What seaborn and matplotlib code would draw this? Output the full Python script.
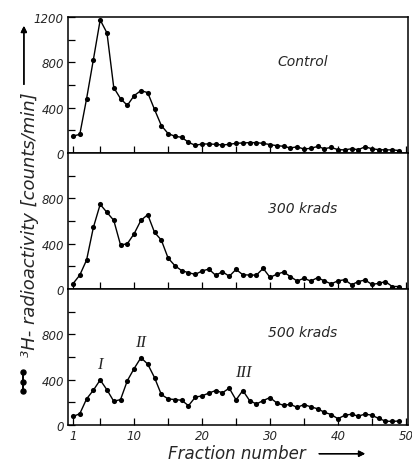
import matplotlib

matplotlib.use("Agg")

import matplotlib.pyplot as plt
import pandas as pd
import seaborn as sns
from matplotlib.lines import Line2D
from matplotlib.ticker import FixedLocator


FRACTIONS = list(range(1, 50))

CONTROL = [
    150, 165, 480, 825, 1175, 1060, 578, 480, 421, 507,
    551, 533, 385, 243, 172, 148, 139, 95, 68, 80,
    80, 77, 71, 77, 86, 89, 92, 92, 85, 75,
    65, 60, 45, 55, 35, 42, 58, 38, 50, 30,
    28, 38, 30, 55, 38, 30, 28, 28, 22,
]
KRADS_300 = [
    47, 123, 256, 544, 747, 676, 606, 388, 400, 488,
    606, 656, 500, 432, 273, 206, 162, 144, 129, 159,
    176, 121, 153, 112, 173, 126, 123, 123, 182, 103,
    130, 150, 110, 70, 95, 70, 100, 72, 45, 72,
    82, 38, 65, 80, 40, 50, 65, 22, 22,
]
KRADS_500 = [
    75, 99, 230, 307, 397, 310, 209, 224, 391, 498,
    594, 537, 418, 269, 230, 224, 218, 170, 245, 257,
    281, 304, 284, 325, 221, 304, 215, 185, 215, 242,
    194, 173, 182, 155, 180, 160, 143, 112, 92, 55,
    85, 95, 78, 96, 86, 57, 34, 31, 35,
]

PANEL_LABELS = ["Control", "300 krads", "500 krads"]
PANEL_LABEL_Y = [810, 715, 820]

PEAK_LABELS = ["I", "II", "III"]
PEAK_X = [5, 11, 26]
PEAK_Y = [540, 730, 470]

X_TICKS = [1, 10, 20, 30, 40, 50]
X_MINOR = [5, 15, 25, 35, 45]
Y_MINOR = [200, 600, 1000]


def build_frame():
    frames = []
    for label, values in zip(PANEL_LABELS, [CONTROL, KRADS_300, KRADS_500]):
        frames.append(pd.DataFrame({"Fraction": FRACTIONS, "Counts": values, "Sample": label}))
    return pd.concat(frames, ignore_index=True)


def main():
    data = build_frame()

    sns.set_style("ticks")
    plt.rcParams["font.family"] = ["DejaVu Sans"]
    plt.rcParams["font.style"] = "italic"

    fig, axes = plt.subplots(3, 1, figsize=(4.12, 4.64), dpi=100, sharex=True)
    fig.subplots_adjust(left=0.165, right=0.99, top=0.961, bottom=0.082, hspace=0)

    for index, (ax, label) in enumerate(zip(axes, PANEL_LABELS)):
        sns.lineplot(
            data=data[data["Sample"] == label],
            x="Fraction",
            y="Counts",
            ax=ax,
            color="black",
            linewidth=1.0,
            marker="o",
            markersize=3.7,
            markeredgewidth=0,
        )
        ax.set_xlim(0.26, 50.3)
        ax.set_ylim(0, 1200)
        ax.set_xlabel("")
        ax.set_ylabel("")

        y_ticks = [0, 400, 800, 1200] if index == 0 else [0, 400, 800]
        ax.yaxis.set_major_locator(FixedLocator(y_ticks))
        ax.yaxis.set_minor_locator(FixedLocator(Y_MINOR))
        ax.xaxis.set_major_locator(FixedLocator(X_TICKS))
        ax.xaxis.set_minor_locator(FixedLocator(X_MINOR))
        ax.tick_params(axis="both", which="both", direction="in", length=5, width=0.9,
                       color="black", labelsize=8.5, pad=3)
        for spine in ax.spines.values():
            spine.set_visible(True)
            spine.set_color("black")
            spine.set_linewidth(1.1)

        ax.text(34.8, PANEL_LABEL_Y[index], label, ha="center", va="center", fontsize=10)

    axes[2].set_xticklabels([str(t) for t in X_TICKS])

    for name, x, y in zip(PEAK_LABELS, PEAK_X, PEAK_Y):
        axes[2].text(x, y, name, ha="center", va="center", fontsize=12,
                     family="Liberation Serif", style="italic")

    # x axis title with its arrow
    fig.text(0.575, 0.010, "Fraction number", ha="center", va="baseline", fontsize=12)
    fig.add_artist(plt.annotate(
        "", xy=(0.893, 0.020), xytext=(0.768, 0.020), xycoords="figure fraction",
        arrowprops=dict(arrowstyle="-|>", color="black", lw=1.0, mutation_scale=9),
    ))

    # y axis title with its arrow
    fig.text(0.072, 0.515, "³H- radioactivity [counts/min]", rotation=90,
             ha="center", va="center", fontsize=13)
    fig.add_artist(plt.annotate(
        "", xy=(0.058, 0.948), xytext=(0.058, 0.810), xycoords="figure fraction",
        arrowprops=dict(arrowstyle="-|>", color="black", lw=1.0, mutation_scale=9),
    ))

    # dot-and-line key
    fig.add_artist(Line2D([0.056, 0.056, 0.056], [0.155, 0.1755, 0.196],
                          transform=fig.transFigure, color="black", linestyle="-",
                          linewidth=1.4, marker="o", markersize=3.6))

    fig.savefig("out.png", dpi=100)
    plt.close(fig)


if __name__ == "__main__":
    main()
